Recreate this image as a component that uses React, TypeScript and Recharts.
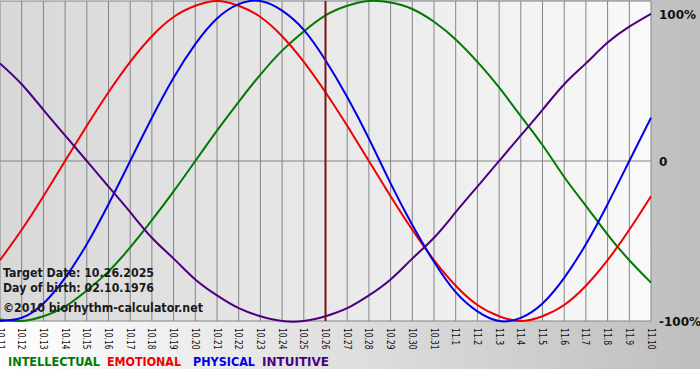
import { LineChart, Line, XAxis, YAxis, CartesianGrid, ReferenceLine } from 'recharts'

const days = [
  '10.11', '10.12', '10.13', '10.14', '10.15', '10.16', '10.17', '10.18', '10.19', '10.20',
  '10.21', '10.22', '10.23', '10.24', '10.25', '10.26', '10.27', '10.28', '10.29', '10.30',
  '10.31', '11.1', '11.2', '11.3', '11.4', '11.5', '11.6', '11.7', '11.8', '11.9', '11.10',
]

const intellectual = [
  -0.99, -1.0, -0.97, -0.91, -0.81, -0.69, -0.54, -0.37, -0.19, 0.0,
  0.19, 0.37, 0.54, 0.69, 0.81, 0.91, 0.97, 1.0, 0.99, 0.95,
  0.87, 0.76, 0.62, 0.46, 0.28, 0.1, -0.1, -0.28, -0.46, -0.62, -0.76,
]
const emotional = [
  -0.62, -0.43, -0.22, 0.0, 0.22, 0.43, 0.62, 0.78, 0.9, 0.97,
  1.0, 0.97, 0.9, 0.78, 0.62, 0.43, 0.22, 0.0, -0.22, -0.43,
  -0.62, -0.78, -0.9, -0.97, -1.0, -0.97, -0.9, -0.78, -0.62, -0.43, -0.22,
]
const physical = [
  -1.0, -0.98, -0.89, -0.73, -0.52, -0.27, 0.0, 0.27, 0.52, 0.73,
  0.89, 0.98, 1.0, 0.94, 0.82, 0.63, 0.4, 0.14, -0.14, -0.4,
  -0.63, -0.82, -0.94, -1.0, -0.98, -0.89, -0.73, -0.52, -0.27, 0.0, 0.27,
]
const intuitive = [
  0.61, 0.48, 0.32, 0.16, 0.0, -0.16, -0.32, -0.48, -0.61, -0.74,
  -0.84, -0.92, -0.97, -1.0, -1.0, -0.97, -0.92, -0.84, -0.74, -0.61,
  -0.48, -0.32, -0.16, 0.0, 0.16, 0.32, 0.48, 0.61, 0.74, 0.84, 0.92,
]

const targetDay = '10.26'
const percentTicks = [-1, 0, 1]

// legend entries, with their x position and drawn width
const series = [
  { key: 'intellectual', name: 'INTELLECTUAL', color: '#007a00', x: 8, w: 92 },
  { key: 'emotional', name: 'EMOTIONAL', color: '#f00000', x: 107, w: 74 },
  { key: 'physical', name: 'PHYSICAL', color: '#0000e6', x: 193, w: 62 },
  { key: 'intuitive', name: 'INTUITIVE', color: '#4b0082', x: 262, w: 67 },
]

const data = days.map((day, i) => ({
  day,
  intellectual: intellectual[i],
  emotional: emotional[i],
  physical: physical[i],
  intuitive: intuitive[i],
}))

const font = '"DejaVu Sans", Verdana, sans-serif'

function DayTick({ x, y, payload }: any) {
  const label = String(payload.value)
  return (
    <text
      transform={`translate(${x},${y + 7}) rotate(90)`}
      textAnchor="start"
      dominantBaseline="central"
      fontSize={11}
      fontFamily={font}
      fill="#111"
      textLength={label.length * 4.3}
      lengthAdjust="spacingAndGlyphs"
    >
      {label}
    </text>
  )
}

function PercentTick({ x, y, payload }: any) {
  const v = payload.value
  const label = v === 0 ? '0' : `${v * 100}%`
  return (
    <text
      x={x + 8}
      y={v === 1 ? y + 6 : y + 1}
      dominantBaseline="central"
      fontSize={12}
      fontWeight="bold"
      fontFamily={font}
      fill="#111"
    >
      {label}
    </text>
  )
}

export default function App() {
  return (
    <div
      style={{
        position: 'absolute',
        left: 0,
        top: 0,
        width: 700,
        height: 380,
        background: 'linear-gradient(to right, #ffffff, #bebebe) 0 0 / 700px 369px no-repeat, #ffffff',
      }}
    >
      <svg width={0} height={0} style={{ position: 'absolute' }}>
        <defs>
          <linearGradient id="plotBg" x1="0" y1="0" x2="1" y2="0">
            <stop offset="0%" stopColor="#d8d8d8" />
            <stop offset="100%" stopColor="#f9f9f9" />
          </linearGradient>
        </defs>
      </svg>
      <LineChart width={700} height={380} data={data} margin={{ top: 1, right: 0, bottom: 0, left: 0 }}>
        <CartesianGrid stroke="#848484" fill="url(#plotBg)" fillOpacity={1} />
        <XAxis
          dataKey="day"
          interval={0}
          height={59}
          axisLine={false}
          tickLine={false}
          tickSize={0}
          tickMargin={0}
          tick={<DayTick />}
        />
        <YAxis
          orientation="right"
          domain={[-1, 1]}
          ticks={percentTicks}
          width={49}
          axisLine={false}
          tickLine={false}
          tickSize={0}
          tickMargin={0}
          tick={<PercentTick />}
        />
        {series.map((s) => (
          <Line
            key={s.key}
            dataKey={s.key}
            type="natural"
            stroke={s.color}
            strokeWidth={2}
            dot={false}
            activeDot={false}
            isAnimationActive={false}
          />
        ))}
        <ReferenceLine x={targetDay} stroke="#7a1212" strokeWidth={2} />
      </LineChart>
      <svg width={700} height={380} style={{ position: 'absolute', left: 0, top: 0, pointerEvents: 'none' }}>
        <g fontFamily={font} fontWeight="bold" fontSize={12} fill="#1a1a1a">
          <text x={3} y={277} textLength={151} lengthAdjust="spacingAndGlyphs">Target Date: 10.26.2025</text>
          <text x={3} y={292} textLength={151} lengthAdjust="spacingAndGlyphs">Day of birth: 02.10.1976</text>
          <text x={3} y={312} textLength={200} lengthAdjust="spacingAndGlyphs">©2010 biorhythm-calculator.net</text>
        </g>
        <g fontFamily={font} fontWeight="bold" fontSize={12}>
          {series.map((s) => (
            <text key={s.key} x={s.x} y={366} fill={s.color} textLength={s.w} lengthAdjust="spacingAndGlyphs">
              {s.name}
            </text>
          ))}
        </g>
      </svg>
    </div>
  )
}
